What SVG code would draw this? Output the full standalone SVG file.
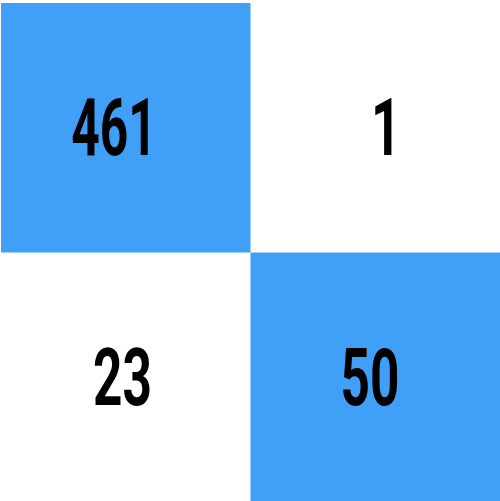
<svg xmlns="http://www.w3.org/2000/svg" width="500" height="501" viewBox="0 0 500 501">
<style>
.cell{fill:#40a0f8}
.num{font-family:Roboto,"Liberation Sans",sans-serif;font-weight:bold;font-size:79px;fill:#000;text-anchor:middle}
</style>
<rect width="500" height="501" fill="#fff"/>
<g id="cell-tl"><rect class="cell" x="1" y="3" width="249.5" height="249.5"/><text class="num" transform="translate(114,155) scale(0.63,1)">461</text></g>
<g id="cell-tr"><text class="num" transform="translate(386,155) scale(0.66,1)">1</text></g>
<g id="cell-bl"><text class="num" transform="translate(122.5,405) scale(0.65,1)">23</text></g>
<g id="cell-br"><rect class="cell" x="250.5" y="252.5" width="249.5" height="248.5"/><text class="num" transform="translate(370,405) scale(0.65,1)">50</text></g>
<g id="connectors"/>
</svg>
